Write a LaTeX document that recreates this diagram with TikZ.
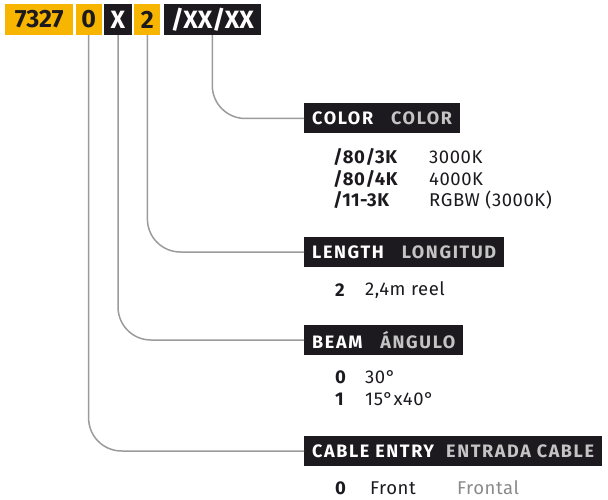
\documentclass[tikz,border=0pt]{standalone}
\usepackage{fontspec}
\setmainfont{Fira Sans}
\newfontfamily\hdrfont[LetterSpace=9]{Fira Sans}
\newfontfamily\itemfont[LetterSpace=3]{Fira Sans}
\usetikzlibrary{positioning}
\definecolor{codeyellow}{HTML}{F7B500}
\definecolor{codedark}{HTML}{1C1A1F}
\definecolor{hdrgray}{HTML}{C4C4C4}
\definecolor{linegray}{HTML}{9B9B9B}
\definecolor{txtgray}{HTML}{8A8A8A}
\tikzset{
  codebox/.style={minimum height=31pt, inner sep=0pt, font=\fontsize{25}{25}\selectfont\bfseries},
  yel/.style={codebox, fill=codeyellow, text=codedark},
  blk/.style={codebox, fill=codedark, text=white},
  hdr/.style={fill=codedark, text=white, anchor=west, minimum height=30pt, inner xsep=8pt, inner ysep=0pt, font=\hdrfont\fontsize{18}{18}\selectfont\bfseries},
  item/.style={anchor=west, inner sep=0pt, text=codedark, font=\itemfont\fontsize{18.5}{20}\selectfont},
  key/.style={item, font=\itemfont\fontsize{18.5}{20}\selectfont\bfseries},
  conn/.style={draw=linegray, line width=1.5pt, rounded corners=33pt},
}

\begin{document}
\begin{tikzpicture}[x=1pt,y=-1pt]
\useasboundingbox (0,0) rectangle (608,500);
% code
\node[yel, minimum width=68pt, anchor=west] (cbase) at (5,19.5) {7327};
\node[yel, minimum width=26pt, right=2pt of cbase] (centry) {0};
\node[blk, minimum width=28pt, right=2pt of centry] (cbeam) {X};
\node[yel, minimum width=26pt, right=2pt of cbeam] (clength) {2};
\node[blk, minimum width=97pt, right=3pt of clength] (ccolor) {/XX/XX};
% headers
\node[hdr] (hcolor) at (304,118.5) {COLOR\hspace{18pt}\textcolor{hdrgray}{COLOR}};
\node[hdr] (hlength) at (304,252) {LENGTH\hspace{18pt}\textcolor{hdrgray}{LONGITUD}};
\node[hdr] (hbeam) at (304,340) {BEAM\hspace{18pt}\textcolor{hdrgray}{ÁNGULO}};
\node[hdr] (hcable) at (304,451) {CABLE ENTRY\hspace{12pt}\textcolor{hdrgray}{ENTRADA CABLE}};
% connectors
\draw[conn] (ccolor.south) |- (hcolor.west);
\draw[conn] (clength.south) |- (hlength.west);
\draw[conn] (cbeam.south) |- (hbeam.west);
\draw[conn] (centry.south) |- (hcable.west);
% color
\node[key] (kc1) at (333,157) {/80/3K};
\node[item] (vc1) at (429,157) {3000K};
\node[key] (kc2) at (333,179) {/80/4K};
\node[item] (vc2) at (429,179) {4000K};
\node[key] (kc3) at (333,200) {/11-3K};
\node[item] (vc3) at (429,200) {RGBW (3000K)};
% length
\node[key] (kl1) at (335,290) {2};
\node[item] (vl1) at (365,290) {2,4m reel};
% beam
\node[key] (kb1) at (335,377) {0};
\node[item] (vb1) at (365,377) {30°};
\node[key] (kb2) at (335,399) {1};
\node[item] (vb2) at (365,399) {15°x40°};
% cable entry
\node[key] (ke1) at (335,488) {0};
\node[item] (ve1) at (370,488) {Front};
\node[item, text=txtgray] (ve2) at (457,488) {Frontal};
\end{tikzpicture}
\end{document}
